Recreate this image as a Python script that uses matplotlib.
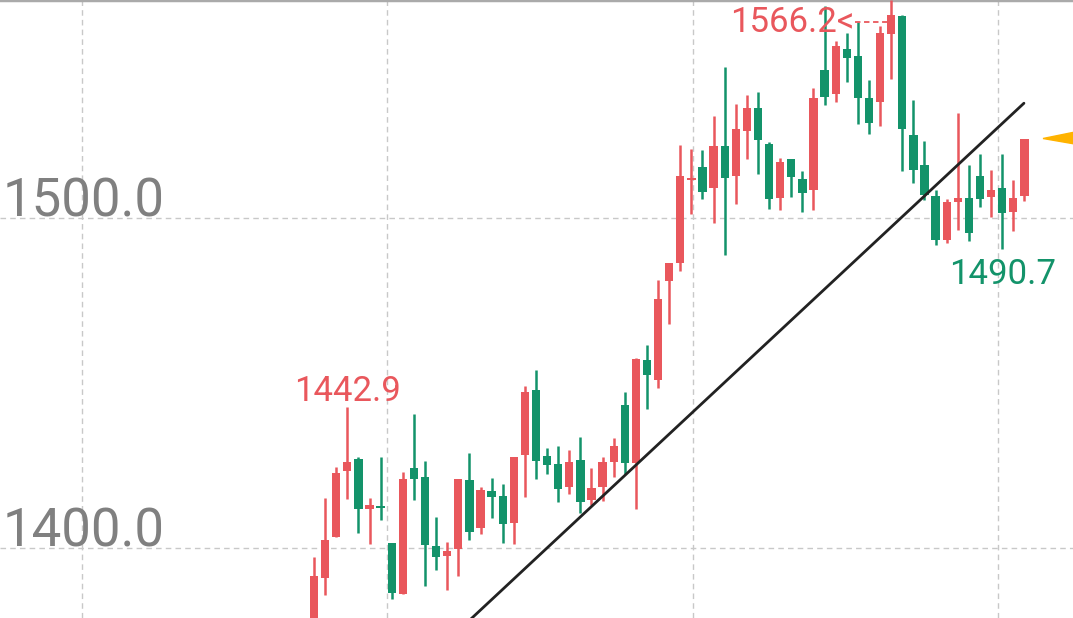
import numpy as np
import matplotlib
matplotlib.use("Agg")
import matplotlib.pyplot as plt
import matplotlib.transforms as mtransforms

plt.rcParams["font.family"] = ["Roboto", "DejaVu Sans"]

# OHLC (red = up, green = down)
opens = [1372.0, 1390.8, 1403.4, 1423.3, 1427.0, 1412.0, 1412.7, 1401.4, 1386.0, 1424.3,
         1421.6, 1400.6, 1397.6, 1399.6, 1420.6, 1406.0, 1417.3, 1415.8, 1407.5, 1428.2,
         1447.9, 1427.9, 1425.5, 1418.4, 1426.7, 1414.5, 1418.6, 1426.0, 1443.3, 1425.7,
         1457.0, 1450.9, 1480.9, 1486.3, 1511.7, 1515.6, 1509.2, 1521.9, 1512.8, 1526.4,
         1533.4, 1522.6, 1506.2, 1517.9, 1511.8, 1508.5, 1545.1, 1537.6, 1551.4, 1549.1,
         1536.6, 1535.2, 1555.8, 1561.3, 1525.2, 1516.3, 1506.8, 1493.3, 1504.9, 1506.2,
         1512.8, 1506.5, 1509.2, 1501.9, 1506.7]
highs = [1397.4, 1415.1, 1424.6, 1442.9, 1427.5, 1415.1, 1427.5, 1401.4, 1423.1, 1440.8,
         1426.5, 1409.5, 1401.9, 1420.8, 1428.9, 1418.6, 1421.3, 1419.4, 1427.7, 1449.2,
         1453.9, 1430.2, 1430.9, 1429.7, 1433.7, 1424.3, 1427.7, 1433.5, 1447.4, 1457.5,
         1461.7, 1481.4, 1486.5, 1522.3, 1521.1, 1520.8, 1530.9, 1545.8, 1534.8, 1537.5,
         1538.3, 1523.0, 1518.3, 1517.9, 1514.3, 1539.6, 1564.5, 1553.9, 1556.3, 1559.5,
         1541.8, 1558.2, 1566.2, 1561.7, 1536.0, 1523.4, 1508.5, 1505.8, 1531.9, 1516.3,
         1519.4, 1514.8, 1519.4, 1511.7, 1524.2]
lows = [1366.0, 1385.8, 1403.4, 1414.8, 1404.6, 1401.2, 1408.5, 1384.5, 1386.0, 1414.5,
        1388.5, 1393.5, 1387.3, 1391.5, 1402.4, 1404.2, 1409.0, 1401.6, 1401.2, 1415.5,
        1420.8, 1422.6, 1414.0, 1416.3, 1410.7, 1413.0, 1414.2, 1421.6, 1422.6, 1411.8,
        1442.3, 1448.4, 1467.8, 1484.0, 1501.4, 1506.0, 1498.6, 1488.8, 1504.2, 1518.1,
        1513.5, 1502.9, 1502.6, 1506.5, 1501.9, 1502.6, 1534.5, 1535.2, 1541.3, 1528.5,
        1525.5, 1527.9, 1542.3, 1514.3, 1510.7, 1505.5, 1491.8, 1492.6, 1496.6, 1493.1,
        1503.4, 1500.4, 1490.7, 1496.2, 1505.2]
closes = [1391.5, 1402.4, 1422.8, 1426.2, 1412.0, 1413.0, 1412.3, 1386.5, 1421.1, 1421.1,
          1400.9, 1397.2, 1399.1, 1420.8, 1404.9, 1417.6, 1415.5, 1407.2, 1427.7, 1447.2,
          1426.4, 1425.2, 1417.8, 1426.0, 1414.0, 1418.1, 1426.2, 1431.0, 1425.7, 1457.2,
          1452.4, 1475.4, 1486.3, 1512.8, 1512.3, 1508.0, 1521.9, 1512.2, 1527.2, 1533.4,
          1523.6, 1505.8, 1517.1, 1512.5, 1507.8, 1536.6, 1536.8, 1552.1, 1548.7, 1536.6,
          1529.0, 1556.3, 1561.5, 1527.2, 1514.8, 1507.0, 1493.5, 1504.9, 1506.3, 1495.5,
          1505.8, 1508.7, 1501.6, 1506.3, 1524.2]

# hand-drawn trend line (two anchor points, candle index / price)
trend_x = [12.0, 63.96]
trend_y = [1371.8, 1534.9]

yticks = [1400.0, 1500.0]
xgrid = [-20.9, 6.58, 34.14, 61.6]

UP = "#e9575c"
DOWN = "#13936a"

o = np.array(opens); h = np.array(highs); l = np.array(lows); c = np.array(closes)
idx = np.arange(len(o))
up = c >= o
cols = np.where(up, UP, DOWN)

fig = plt.figure(figsize=(10.73, 6.18), dpi=100)
ax = fig.add_axes([0, 0, 1, 1])
ax.set_xlim(-28.29, 68.38)
ax.set_ylim(1378.8, 1566.2)
ax.axis("off")

# grid
for v in yticks:
    ax.axhline(v, color="#c8c8c8", lw=1.0, ls=(0, (4, 3)), zorder=0)
for v in xgrid:
    ax.axvline(v, color="#c8c8c8", lw=1.0, ls=(0, (4, 3)), zorder=0)
ax.axhline(1566.2, color="#aaaaaa", lw=2.5, zorder=1, clip_on=False)

# candles
ax.vlines(idx, l, h, colors=cols, lw=1.8, zorder=2)
body_lo = np.minimum(o, c)
body_h = np.maximum(np.abs(c - o), 0.5)
ax.bar(idx, body_h, bottom=body_lo, width=0.75, color=cols, zorder=3)

# trend line
ax.plot(trend_x, trend_y, color="#222222", lw=2.0, zorder=4, solid_capstyle="round")

# y tick labels inside the plot
tr = mtransforms.blended_transform_factory(ax.transAxes, ax.transData)
for v in yticks:
    ax.text(0.002, v + 0.4, f"{v:.1f}", transform=tr, ha="left", va="baseline",
            fontsize=38, color="#808080", zorder=5)

# high / low labels
i_max = int(np.argmax(h))
lab_y = h[i_max] - 6.7
ax.text(i_max - 3.3, lab_y, f"{h[i_max]:.1f}<", ha="right", va="center",
        fontsize=25, color=UP, zorder=5)
ax.plot([i_max - 3.3, i_max], [lab_y, lab_y], color=UP, lw=1.3,
        ls=(0, (3, 2)), zorder=5)

i_loc = 3
ax.text(i_loc, h[i_loc] - 0.3, f"{h[i_loc]:.1f}", ha="center", va="bottom",
        fontsize=25, color=UP, zorder=5)

i_min = int(np.argmin(l[40:])) + 40
ax.text(i_min, l[i_min] - 2.6, f"{l[i_min]:.1f}", ha="center", va="top",
        fontsize=25, color=DOWN, zorder=5)

# current price marker
last = c[-1]
ax.fill([idx[-1] + 1.68, 68.6, 68.6], [last, last + 2.0, last - 1.7],
        color="#ffb300", zorder=5, clip_on=True)

fig.savefig("out.png", dpi=100)
